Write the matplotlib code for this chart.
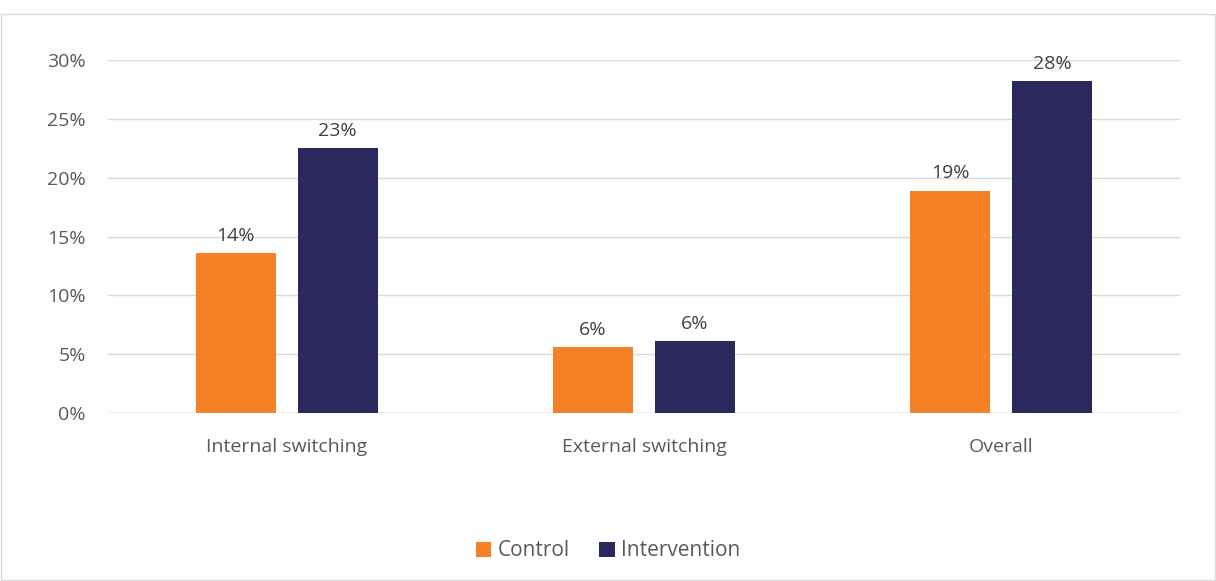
import numpy as np
import matplotlib.pyplot as plt

categories = ['Internal switching', 'External switching', 'Overall']
control = [13.6, 5.6, 18.9]
intervention = [22.5, 6.1, 28.2]
control_labels = ['14%', '6%', '19%']
intervention_labels = ['23%', '6%', '28%']

orange = '#F58025'
navy = '#2A285C'
txt = '#595959'

plt.rcParams['font.family'] = ['Open Sans', 'DejaVu Sans']

fig = plt.figure(figsize=(12.16, 5.81), dpi=100)
ax = fig.add_axes([108/1216, 1 - 413/581, (1180-108)/1216, (413-60)/581])

x = np.arange(len(categories))
w = 0.224
off = 0.143
b1 = ax.bar(x - off, control, w, color=orange, label='Control', zorder=3)
b2 = ax.bar(x + off, intervention, w, color=navy, label='Intervention', zorder=3)

for bars, labs in ((b1, control_labels), (b2, intervention_labels)):
    for b, lab in zip(bars, labs):
        ax.annotate(lab, (b.get_x() + b.get_width()/2, b.get_height()),
                    xytext=(0, 6), textcoords='offset points',
                    ha='center', va='bottom', fontsize=14, color='#404040')

ax.set_xlim(-0.5, 2.5)
ax.set_ylim(0, 30)
ax.set_yticks(range(0, 31, 5))
ax.set_yticklabels([f'{v}%' for v in range(0, 31, 5)])
ax.set_xticks(x)
ax.set_xticklabels(categories)
ax.tick_params(axis='both', length=0, labelsize=14, colors=txt)
ax.tick_params(axis='y', pad=16)
ax.tick_params(axis='x', pad=18)
ax.grid(axis='y', color='#D9D9D9', linewidth=1, zorder=0)
for s in ax.spines.values():
    s.set_visible(False)
ax.axhline(0, color='#D9D9D9', linewidth=1, zorder=2)

fig.legend(loc='center', bbox_to_anchor=(0.5, 1 - 551/581), ncol=2, frameon=False,
           fontsize=15, handlelength=0.75, handleheight=0.75, handletextpad=0.3,
           columnspacing=1.4, labelcolor=txt)

fig.patches.append(plt.Rectangle((0.001, 0.001), 0.998, 0.975, transform=fig.transFigure,
                                 fill=False, edgecolor='#D9D9D9', linewidth=1))

fig.savefig('out.png', dpi=100)
